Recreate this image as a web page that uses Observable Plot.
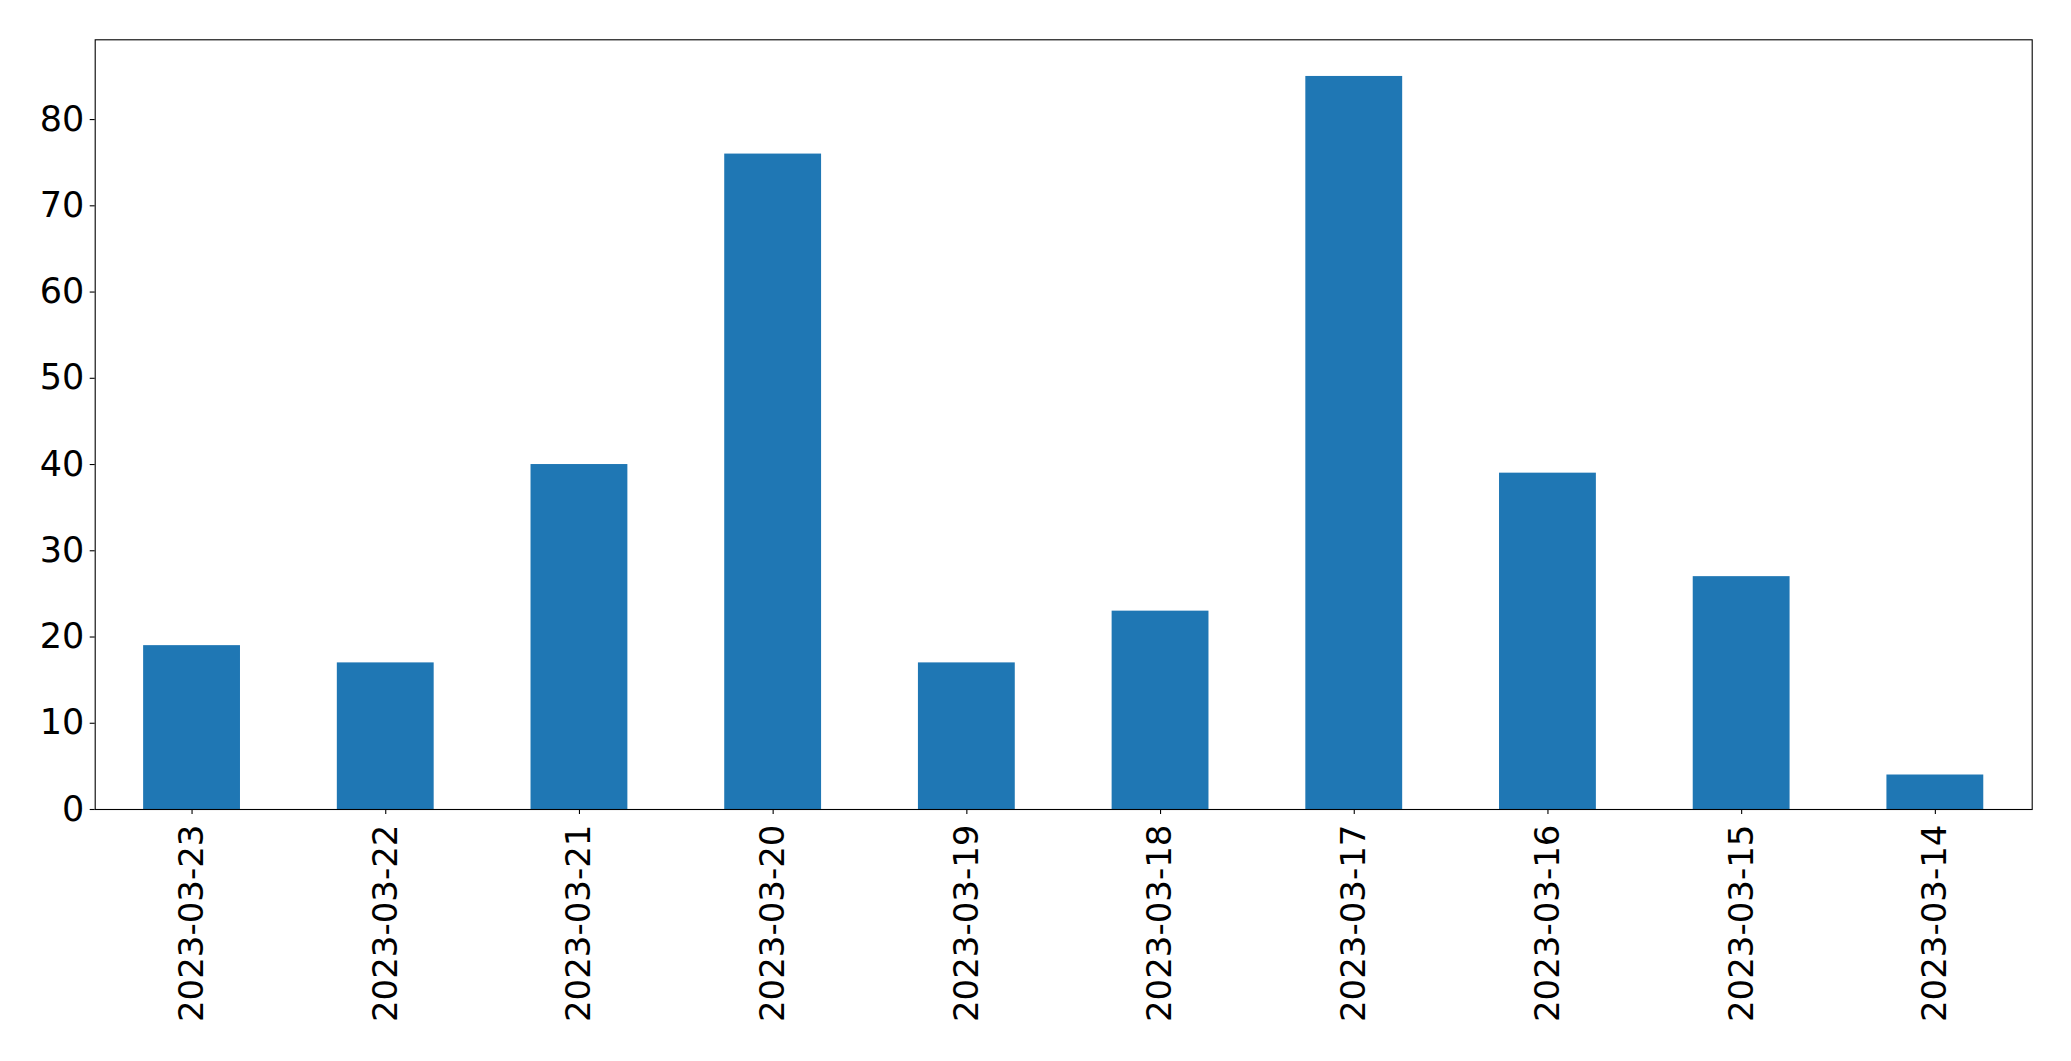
<!DOCTYPE html>
<html>
<head>
<meta charset="utf-8">
<script src="https://cdn.jsdelivr.net/npm/d3@7"></script>
<script src="https://cdn.jsdelivr.net/npm/@observablehq/plot@0.6"></script>
<style>
  html, body { margin: 0; padding: 0; background: #fff; }
  #chart svg { display: block; }
</style>
</head>
<body>
<div id="chart"></div>
<script>
const dates = ["2023-03-23", "2023-03-22", "2023-03-21", "2023-03-20", "2023-03-19",
               "2023-03-18", "2023-03-17", "2023-03-16", "2023-03-15", "2023-03-14"];
const counts = [19, 17, 40, 76, 17, 23, 85, 39, 27, 4];
const yTicks = [0, 10, 20, 30, 40, 50, 60, 70, 80];

const data = dates.map((d, i) => ({date: d, count: counts[i]}));

const chart = Plot.plot({
  width: 2071,
  height: 1061,
  marginLeft: 94.7,
  marginRight: 39.3,
  marginTop: 39.3,
  marginBottom: 252,
  style: {fontFamily: "'DejaVu Sans', sans-serif", fontSize: "34px", color: "#000", background: "#fff"},
  x: {domain: dates, paddingInner: 0.5, paddingOuter: 0.25, round: false, label: null},
  y: {domain: [0, 89.25], label: null},
  marks: [
    Plot.barY(data, {x: "date", y: "count", fill: "#1f77b4"}),
    Plot.axisY({ticks: yTicks, tickSize: 5, tickPadding: 6, tickFormat: d => String(d), fontSize: 35, strokeWidth: 1.1, label: null}),
    Plot.axisX({tickSize: 5, tickPadding: 10, tickRotate: -90, fontSize: 34, strokeWidth: 1.1, label: null}),
    Plot.frame({stroke: "#000", strokeWidth: 1.1})
  ]
});
document.getElementById("chart").appendChild(chart);
</script>
</body>
</html>
